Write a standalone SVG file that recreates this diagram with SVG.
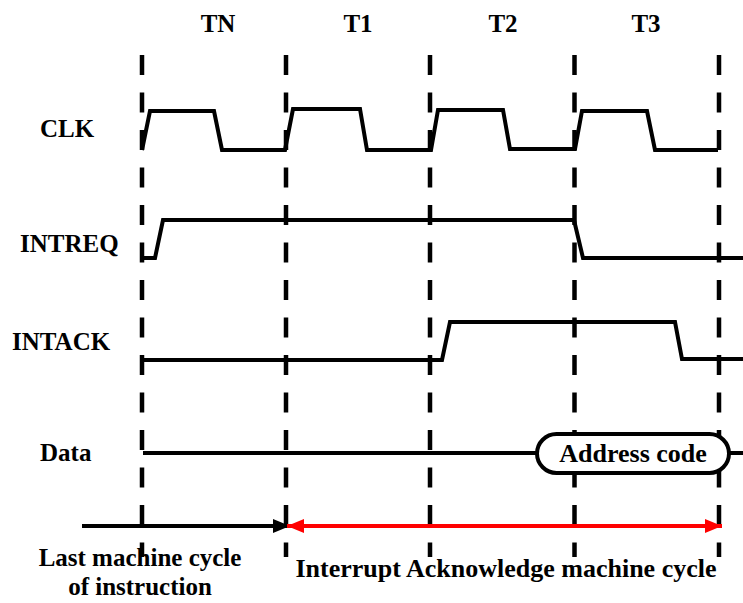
<svg xmlns="http://www.w3.org/2000/svg" width="743" height="603" viewBox="0 0 743 603">
<style>
text{font-family:"Liberation Serif","Times New Roman",serif;font-weight:bold;fill:#000}
.t{font-size:25px;text-anchor:middle}
.l{font-size:25px}
.grid{stroke:#000;stroke-width:4.5;stroke-dasharray:20 17.5;fill:none}
.sig{stroke:#000;stroke-width:4;fill:none;stroke-linejoin:miter}
</style>
<defs>
<marker id="ab" markerWidth="18" markerHeight="14" refX="17" refY="7" orient="auto" markerUnits="userSpaceOnUse"><path d="M0,0 L17,7 L0,14 Z" fill="#000"/></marker>
<marker id="ar" markerWidth="18" markerHeight="14" refX="17" refY="7" orient="auto-start-reverse" markerUnits="userSpaceOnUse"><path d="M0,0 L17,7 L0,14 Z" fill="#f00"/></marker>
</defs>
<g id="grid">
<line class="grid" x1="142" y1="55" x2="142" y2="557"/>
<line class="grid" x1="286" y1="55" x2="286" y2="557"/>
<line class="grid" x1="430" y1="55" x2="430" y2="557"/>
<line class="grid" x1="574.5" y1="55" x2="574.5" y2="557"/>
<line class="grid" x1="719" y1="55" x2="719" y2="557"/>
</g>
<g id="periods">
<text class="t" x="218" y="32">TN</text>
<text class="t" x="358" y="32">T1</text>
<text class="t" x="503" y="32">T2</text>
<text class="t" x="646" y="32">T3</text>
</g>
<g id="clk">
<text class="l" x="40" y="137">CLK</text>
<path class="sig" d="M142,150 L150,111 L214,111 L222,150 L285,150 L293,109 L360,109 L367,150 L431,150 L438,110 L503,110 L510,149 L575,149 L582,111 L647,111 L655,150 L718,150"/>
</g>
<g id="intreq">
<text class="l" x="20" y="252">INTREQ</text>
<path class="sig" d="M142,258 L155,258 L163,220 L574,220 L583,258 L743,258"/>
</g>
<g id="intack">
<text class="l" x="12" y="350">INTACK</text>
<path class="sig" d="M142,360 L442,360 L450,322 L675,322 L682,359 L743,359"/>
</g>
<g id="data">
<text class="l" x="40" y="461">Data</text>
<path class="sig" d="M143,453 L537,453 M729,453 L743,453"/>
<rect x="537" y="434" width="192" height="39" rx="19.5" ry="19.5" fill="#fff" stroke="#000" stroke-width="4"/>
<text x="633" y="462" font-size="26" text-anchor="middle">Address code</text>
</g>
<g id="connectors">
<line x1="82" y1="526" x2="290" y2="526" stroke="#000" stroke-width="4" marker-end="url(#ab)"/>
<line x1="287" y1="526" x2="722" y2="526" stroke="#f00" stroke-width="4" marker-start="url(#ar)" marker-end="url(#ar)"/>
</g>
<g id="labels">
<text x="140" y="566" font-size="25" text-anchor="middle">Last machine cycle</text>
<text x="140" y="595" font-size="25" text-anchor="middle">of instruction</text>
<text x="506" y="577" font-size="26" text-anchor="middle">Interrupt Acknowledge machine cycle</text>
</g>
</svg>
